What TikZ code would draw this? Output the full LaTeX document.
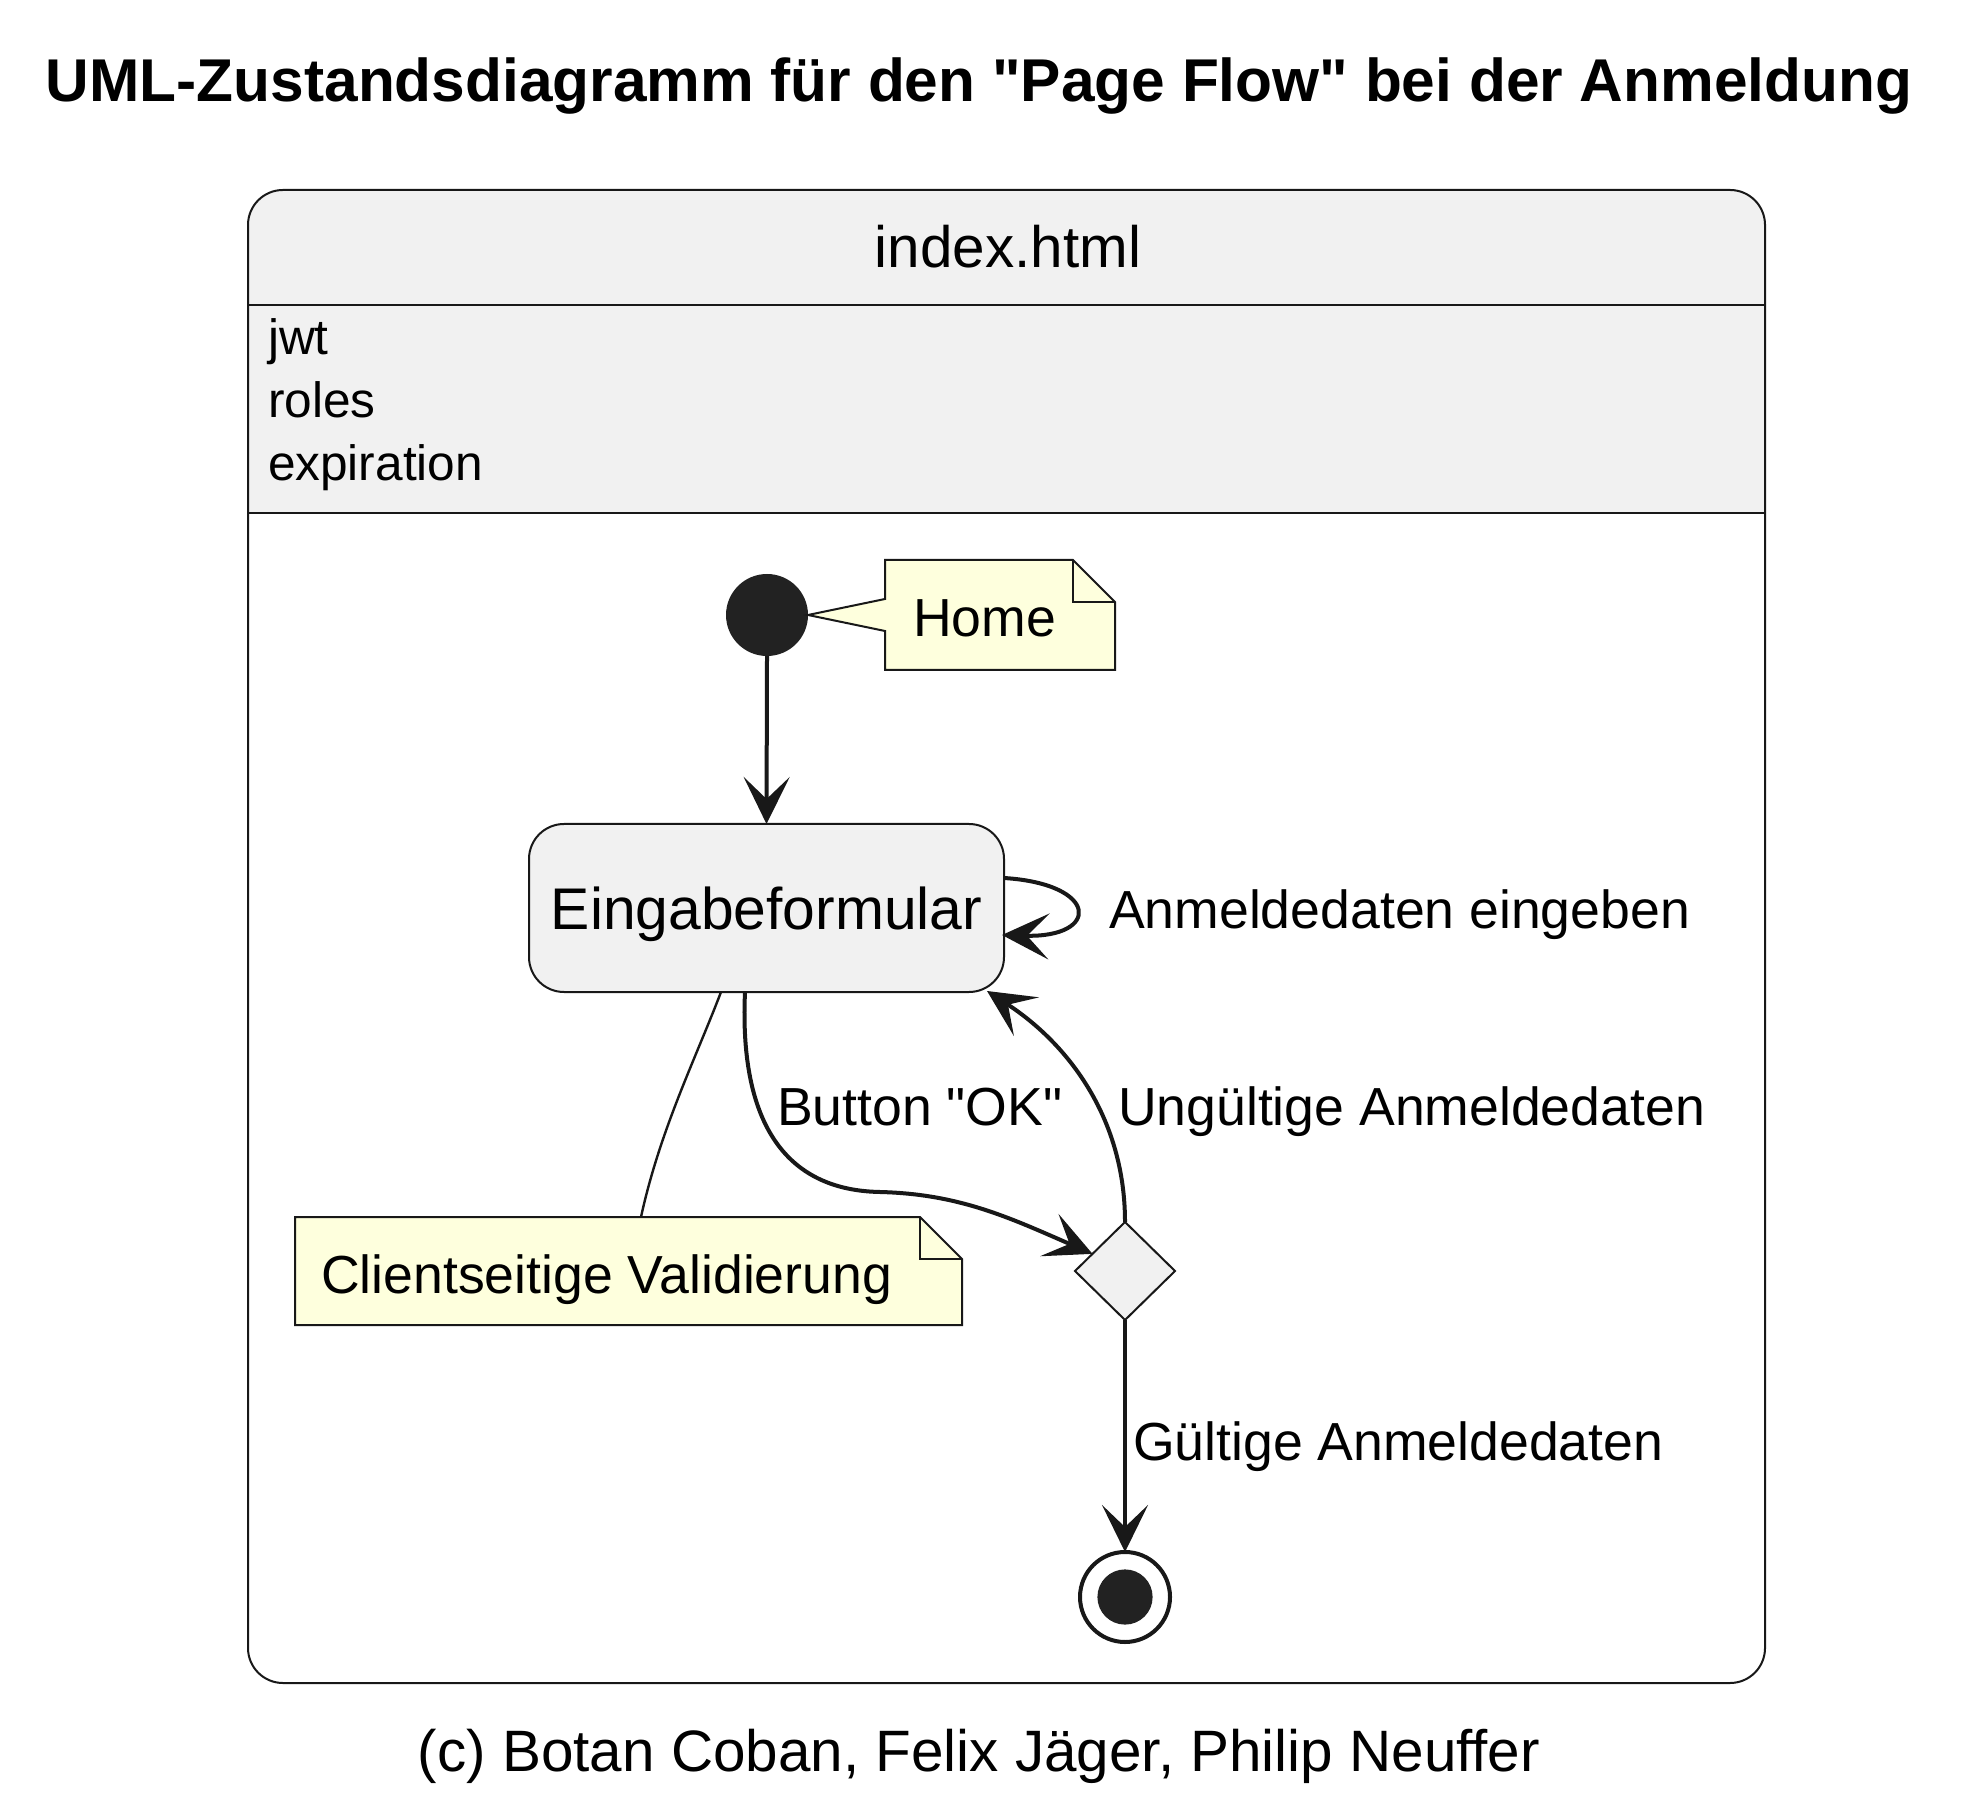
\documentclass[tikz,border=0pt]{standalone}
\usepackage{fontspec}
\setmainfont{Liberation Sans}[Ligatures=TeXOff]
\usetikzlibrary{arrows.meta,shapes.geometric,calc}
\definecolor{stategray}{HTML}{F1F1F1}
\definecolor{notefill}{HTML}{FEFFDD}
\definecolor{linec}{HTML}{181818}
\definecolor{dotc}{HTML}{222222}
\begin{document}
\begin{tikzpicture}[x=0.25pt,y=-0.25pt,
  every node/.style={inner sep=0pt, outer sep=0pt},
  trans/.style={draw=linec, line width=1pt, -{Stealth[length=11.75pt,width=11.5pt,inset=5.5pt]}},
  notebox/.style={draw=linec, fill=notefill, line width=0.5pt, line join=miter},
  lbl/.style={anchor=base west, font=\fontsize{13.4pt}{16pt}\selectfont},
  attr/.style={anchor=base west, font=\fontsize{12.4pt}{15pt}\selectfont},
  statebox/.style={draw=linec, fill=stategray, line width=0.5pt, rounded corners=8.75pt},
  notelink/.style={draw=linec, line width=0.6pt}
]
\useasboundingbox (0,0) rectangle (1987,1815);
\fill[white] (0,0) rectangle (1987,1815);

% title
\node[anchor=base, font=\bfseries\fontsize{15.1pt}{18pt}\selectfont] (title) at (979,102)
  {UML-Zustandsdiagramm für den "Page Flow" bei der Anmeldung};

% outer composite state
\node[minimum width=379.25pt, minimum height=373.25pt, fill=white, rounded corners=8.75pt] (idx) at (1006.5,936.5) {};
\coordinate (hdrA) at (0,305);
\coordinate (hdrB) at (0,513);
\begin{scope}
  \clip[rounded corners=8.75pt] (idx.north west) rectangle (idx.south east);
  \fill[stategray] (idx.north west) rectangle (idx.east |- hdrB);
\end{scope}
\draw[draw=linec, line width=0.5pt, rounded corners=8.75pt] (idx.north west) rectangle (idx.south east);
\draw[draw=linec, line width=0.5pt] (idx.west |- hdrA) -- (idx.east |- hdrA);
\draw[draw=linec, line width=0.5pt] (idx.west |- hdrB) -- (idx.east |- hdrB);

\node[anchor=base, font=\fontsize{14.6pt}{17pt}\selectfont] (idxname) at (1008,268) {index.html};
\node[attr] (a1) at (268,355) {jwt};
\node[attr] (a2) at (268,418) {roles};
\node[attr] (a3) at (268,481) {expiration};

% initial state
\node[circle, fill=dotc, minimum size=20.5pt] (init) at (767,615) {};

% note Home
\node[minimum width=57.5pt, minimum height=27.5pt] (home) at (1000,615) {};
\draw[notebox] (init.east) -- (885,599) -- (home.north west) -- ($(home.north east)+(-42,0)$)
  -- ($(home.north east)+(0,42)$) -- (home.south east) -- (home.south west) -- (885,631) -- cycle;
\draw[notebox, fill=none] ($(home.north east)+(-42,0)$) -- ($(home.north east)+(-42,42)$) -- ($(home.north east)+(0,42)$);
\node[lbl] (hometxt) at (913,637) {Home};

% Eingabeformular
\node[statebox, minimum width=118.75pt, minimum height=42pt] (ein) at (766.5,908) {};
\node[anchor=base, font=\fontsize{14.7pt}{17pt}\selectfont] (eintxt) at (766.5,930) {Eingabeformular};

% decision
\node[diamond, draw=linec, fill=stategray, line width=0.5pt, minimum width=25pt, minimum height=24.5pt] (dia) at (1125,1271) {};

% final state
\node[circle, draw=linec, line width=1pt, fill=white, minimum size=22.5pt] (fin) at (1125,1597) {};
\fill[dotc] (fin.center) circle (6.9pt);

% note Clientseitige Validierung
\node[minimum width=166.75pt, minimum height=27pt] (val) at (628.5,1271) {};
\draw[notebox] (val.north west) -- ($(val.north east)+(-42,0)$) -- ($(val.north east)+(0,42)$)
  -- (val.south east) -- (val.south west) -- cycle;
\draw[notebox, fill=none] ($(val.north east)+(-42,0)$) -- ($(val.north east)+(-42,42)$) -- ($(val.north east)+(0,42)$);
\node[lbl] (valtxt) at (321,1293) {Clientseitige Validierung};
\draw[notelink] ($(ein.south)+(-45.5,0)$) .. controls (695,1060) and (660,1130) .. ($(val.north)+(12.5,0)$);

% transitions
\draw[trans] (init.south) -- (ein.north);
\draw[trans] ($(ein.east)+(0,-30)$) .. controls (1100,884) and (1100,938) .. ($(ein.east)+(-2,27)$);
\node[lbl] (l1) at (1109,929) {Anmeldedaten eingeben};

\draw[trans] ($(ein.south)+(-21.5,0)$) .. controls (740,1100) and (770,1190) .. (880,1192)
  .. controls (960,1194) and (1010,1218) .. ($(dia.west)!0.35!(dia.north)$);
\node[lbl] (l2) at (777,1125) {Button "OK"};

\draw[trans] (dia.north) .. controls (1125,1120) and (1070,1045) .. ($(ein.south east)+(-17,-1)$);
\node[lbl] (l3) at (1118,1125) {Ungültige Anmeldedaten};

\draw[trans] (dia.south) -- (fin.north);
\node[lbl] (l4) at (1133,1460) {Gültige Anmeldedaten};

% caption
\node[anchor=base, font=\fontsize{14.6pt}{17pt}\selectfont] (cap) at (979,1771)
  {(c) Botan Coban, Felix Jäger, Philip Neuffer};
\end{tikzpicture}
\end{document}
